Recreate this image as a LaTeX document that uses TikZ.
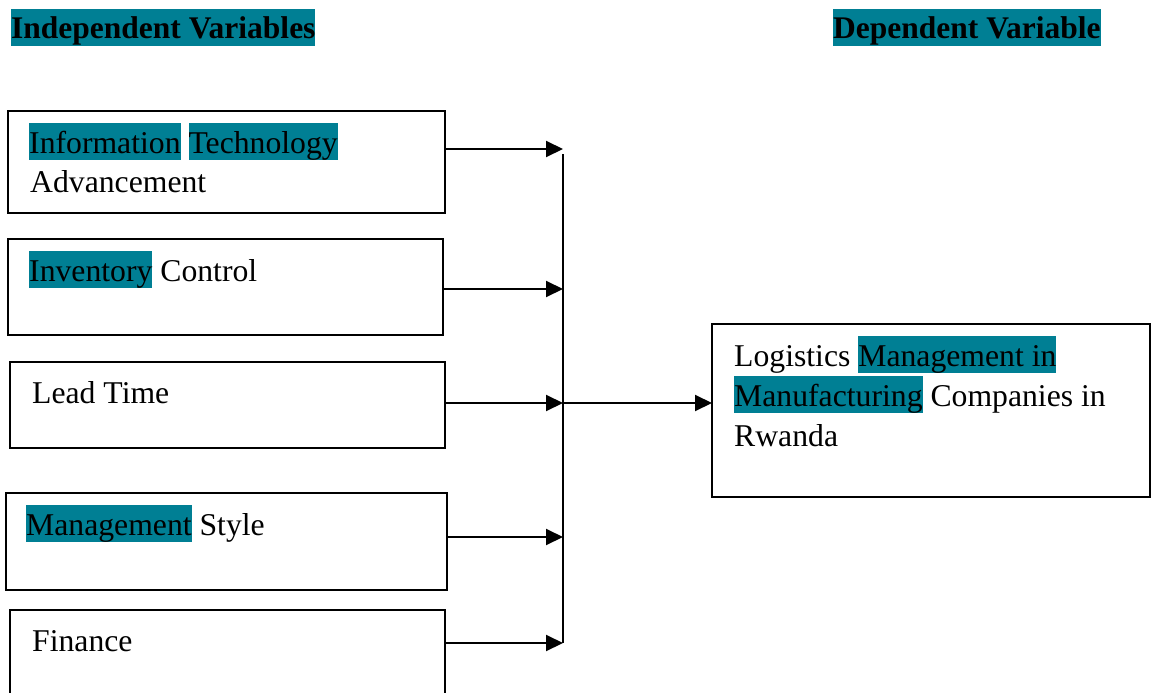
\documentclass[tikz,border=0pt]{standalone}
\usepackage{fontspec}
\setmainfont{Liberation Serif}
\usetikzlibrary{arrows.meta}
\definecolor{hlc}{RGB}{0,127,148}
\newcommand\hlt[1]{{\setlength{\fboxsep}{0pt}\colorbox{hlc}{\rule[-7pt]{0pt}{37pt}#1}}}
\begin{document}
\begin{tikzpicture}[x=1pt,y=-1pt,
  box/.style={draw, line width=1.6pt, rectangle, inner sep=0pt, outer sep=0pt, anchor=north west},
  txt/.style={inner sep=0pt, anchor=base west, font=\fontsize{31.7}{40}\selectfont},
  head/.style={inner sep=0pt, anchor=base west, font=\fontsize{31.5}{40}\selectfont\bfseries},
  arr/.style={line width=2pt, -{Triangle[length=17pt,width=16pt]}},
  vline/.style={line width=2pt}]
\useasboundingbox (0,0) rectangle (1151,693);
% headings
\node[head] (hind) at (11,39) {\hlt{Independent Variables}};
\node[head] (hdep) at (833,39) {\hlt{Dependent Variable}};
% boxes
\node[box, minimum width=437pt, minimum height=102pt] (b1) at (8,111) {};
\node[box, minimum width=435pt, minimum height=96pt] (b2) at (8,239) {};
\node[box, minimum width=435pt, minimum height=86pt] (b3) at (10,362) {};
\node[box, minimum width=441pt, minimum height=97pt] (b4) at (6,493) {};
\node[box, minimum width=435pt, minimum height=120pt] (b5) at (10,610) {};
\node[box, minimum width=438pt, minimum height=173pt] (dv) at (712,324) {};
% texts
\node[txt] (t1a) at (29,153) {\hlt{Information} \hlt{Technology}};
\node[txt] (t1b) at (30,192) {Advancement};
\node[txt] (t2) at (29,281) {\hlt{Inventory} Control};
\node[txt] (t3) at (32,403) {Lead Time};
\node[txt] (t4) at (26,535) {\hlt{Management} Style};
\node[txt] (t5) at (32,651) {Finance};
\node[txt] (d1) at (734,366) {Logistics \hlt{Management in}};
\node[txt] (d2) at (734,406) {\hlt{Manufacturing} Companies in};
\node[txt] (d3) at (734,446) {Rwanda};
% junction coordinates
\coordinate (jt) at (563,154);
\coordinate (j1) at (563,149);
\coordinate (j2) at (563,289);
\coordinate (j3) at (563,403);
\coordinate (j4) at (563,537);
\coordinate (j5) at (563,643);
\draw[vline] (jt) -- (j5);
\draw[arr] (b1.east |- j1) -- (j1);
\draw[arr] (b2.east |- j2) -- (j2);
\draw[arr] (b3.east |- j3) -- (j3);
\draw[arr] (b4.east |- j4) -- (j4);
\draw[arr] (b5.east |- j5) -- (j5);
\draw[arr] (j3) -- (dv.west |- j3);
\end{tikzpicture}
\end{document}
